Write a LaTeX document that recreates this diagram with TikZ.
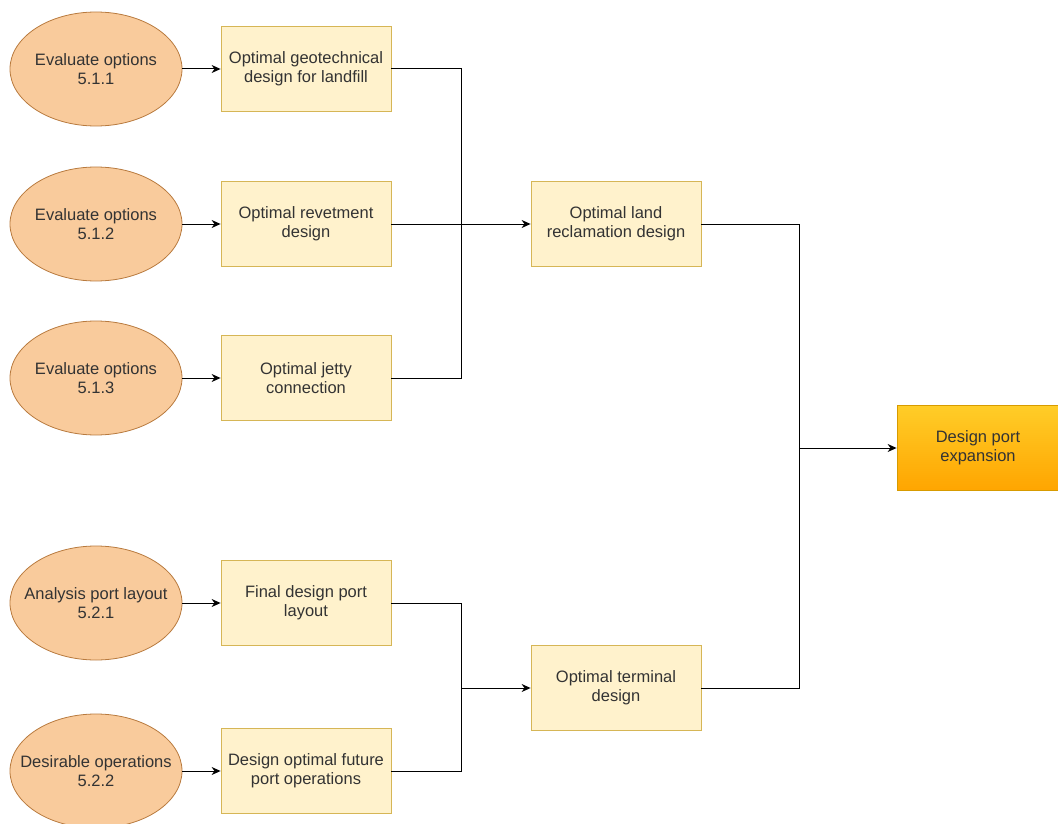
\documentclass[tikz,border=0pt]{standalone}
\usepackage{fontspec}
\setmainfont{Liberation Sans}
\usetikzlibrary{arrows.meta,shapes.geometric}
\definecolor{ellfill}{HTML}{F9CB9C}
\definecolor{elldraw}{HTML}{B87A3E}
\definecolor{boxfill}{HTML}{FFF2CC}
\definecolor{boxdraw}{HTML}{D6B656}
\definecolor{goaltop}{HTML}{FFCD28}
\definecolor{goalbot}{HTML}{FFA500}
\definecolor{goaldraw}{HTML}{D79B00}
\definecolor{txt}{HTML}{333333}
\begin{document}
\begin{tikzpicture}[x=1pt,y=-1pt,
  fnt/.style={font=\fontsize{16.5}{19}\selectfont,text=txt,align=center},
  ell/.style={ellipse,draw=elldraw,fill=ellfill,line width=0.8pt,minimum width=172pt,minimum height=114pt,inner sep=0pt},
  lbl/.style={fnt,inner sep=0pt},
  box/.style={rectangle,draw=boxdraw,fill=boxfill,line width=0.8pt,minimum width=170pt,minimum height=85pt,inner sep=0pt,fnt},
  goal/.style={rectangle,draw=goaldraw,top color=goaltop,bottom color=goalbot,line width=0.8pt,minimum width=162pt,minimum height=85pt,inner sep=0pt,fnt},
  conn/.style={line width=1pt,black},
  arr/.style={conn,-{Stealth[length=9pt,width=8pt]}}]
\useasboundingbox (0,0) rectangle (1058,824);
\node[ell] (e1) at (96,69) {};
\node[lbl] (t1) at (e1) {Evaluate options\\5.1.1};
\node[ell] (e2) at (96,224) {};
\node[lbl] (t2) at (e2) {Evaluate options\\5.1.2};
\node[ell] (e3) at (96,378) {};
\node[lbl] (t3) at (e3) {Evaluate options\\5.1.3};
\node[ell] (e4) at (96,603) {};
\node[lbl] (t4) at (e4) {Analysis port layout\\5.2.1};
\node[ell] (e5) at (96,771) {};
\node[lbl] (t5) at (e5) {Desirable operations\\5.2.2};
\node[box] (b1) at (306,69) {Optimal geotechnical\\design for landfill};
\node[box] (b2) at (306,224) {Optimal revetment\\design};
\node[box] (b3) at (306,378) {Optimal jetty\\connection};
\node[box] (b4) at (306,603) {Final design port\\layout};
\node[box] (b5) at (306,771) {Design optimal future\\port operations};
\node[box] (m1) at (616,224) {Optimal land\\reclamation design};
\node[box] (m2) at (616,688) {Optimal terminal\\design};
\node[goal] (g) at (978,448) {Design port\\expansion};
\coordinate (j1) at (461,224);
\coordinate (j2) at (461,688);
\coordinate (j3) at (799,448);
\foreach \a/\b in {e1/b1,e2/b2,e3/b3,e4/b4,e5/b5} \draw[arr] (\a) -- (\b);
\draw[conn] (b1.east) -| (j1);
\draw[conn] (b3.east) -| (j1);
\draw[arr] (b2.east) -- (m1.west);
\draw[conn] (b4.east) -| (j2);
\draw[conn] (b5.east) -| (j2);
\draw[arr] (j2) -- (m2.west);
\draw[conn] (m1.east) -| (j3);
\draw[conn] (m2.east) -| (j3);
\draw[arr] (j3) -- (g.west);
\end{tikzpicture}
\end{document}
